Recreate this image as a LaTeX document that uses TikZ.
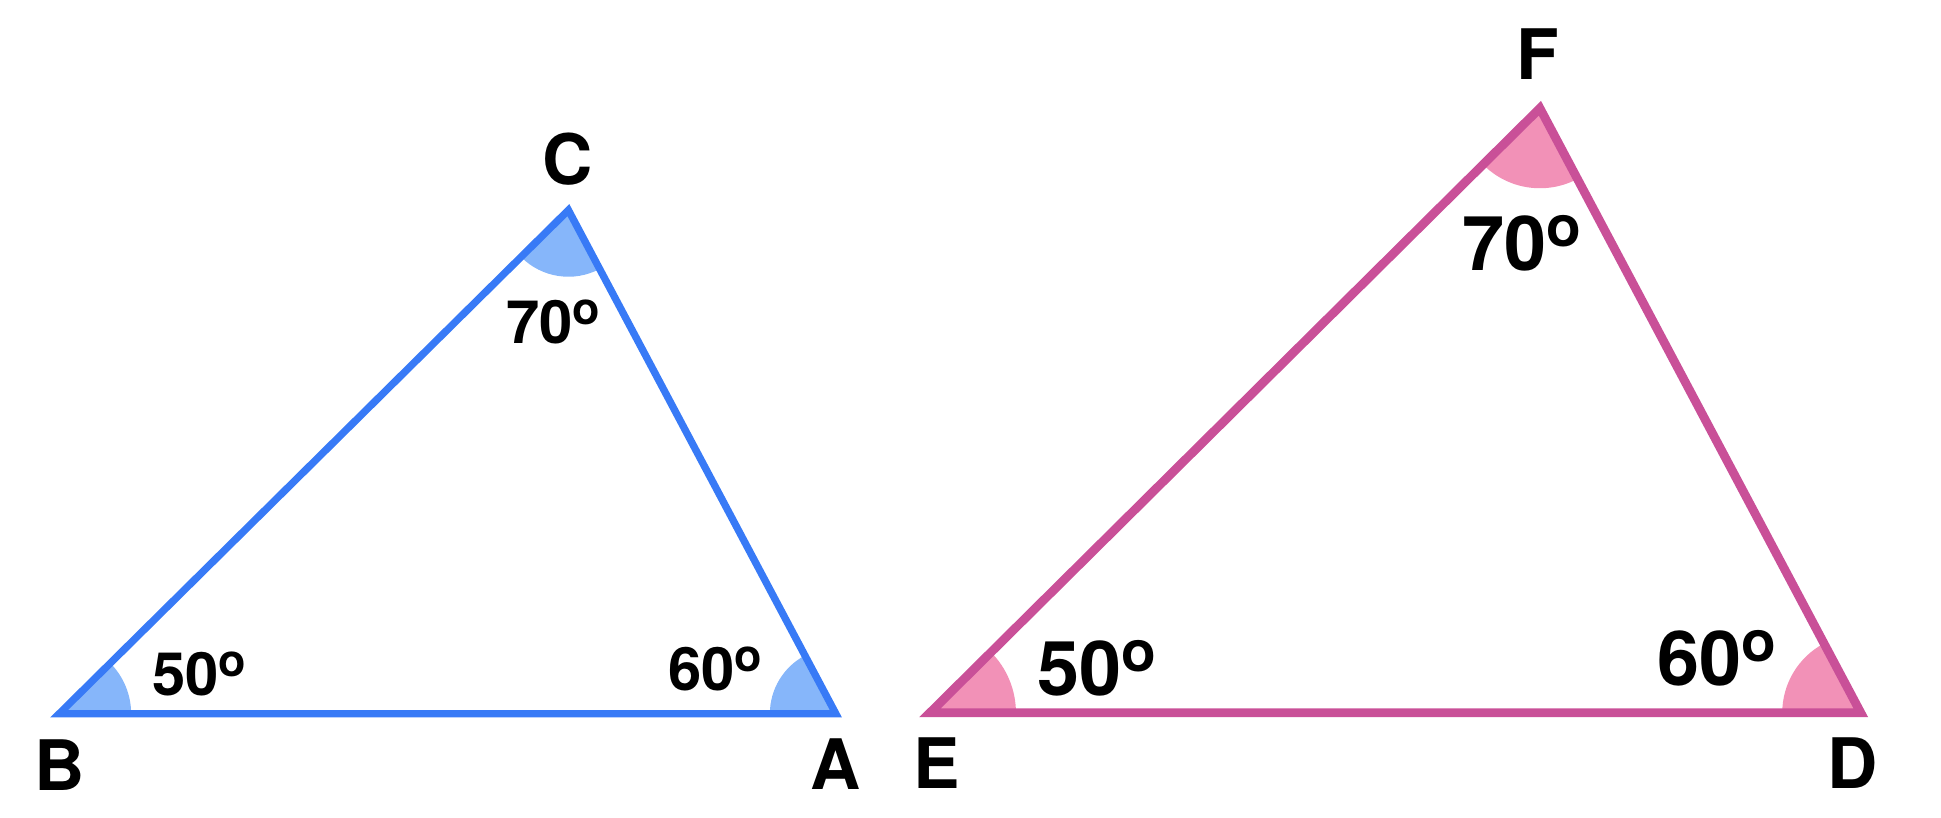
\documentclass[tikz,border=0pt]{standalone}
\usepackage{fontspec}
\setmainfont{TeX Gyre Heros}
\usepackage{graphicx}
\usetikzlibrary{angles, calc}
\definecolor{lineblue}{RGB}{56,122,246}
\definecolor{fillblue}{RGB}{134,182,250}
\definecolor{linepink}{RGB}{201,80,152}
\definecolor{fillpink}{RGB}{242,145,183}
\newcommand{\degsign}{\raisebox{0.31em}{\scalebox{0.75}{o}}}

\begin{document}
\begin{tikzpicture}[x=0.01cm, y=-0.01cm,
    vertexlabel/.style={font=\fontsize{19.8}{22}\selectfont\bfseries, inner sep=0pt},
    smallangle/.style={font=\fontsize{17}{19}\selectfont\bfseries, inner sep=0pt},
    bigangle/.style={font=\fontsize{21.5}{24}\selectfont\bfseries, inner sep=0pt}]
    \useasboundingbox (0,0) rectangle (1941,818);

    % Vertices
    \coordinate (B) at (59.1,713.8);
    \coordinate (A) at (835.9,713.8);
    \coordinate (C) at (568.4,210.1);
    \coordinate (E) at (929.9,712.8);
    \coordinate (D) at (1860.8,712.8);
    \coordinate (F) at (1539.9,108.2);

    % Angle sectors
    \pic[fill=fillblue, angle radius=0.72cm] {angle = A--B--C};
    \pic[fill=fillblue, angle radius=0.66cm] {angle = C--A--B};
    \pic[fill=fillblue, angle radius=0.666cm] {angle = B--C--A};
    \pic[fill=fillpink, angle radius=0.86cm] {angle = D--E--F};
    \pic[fill=fillpink, angle radius=0.785cm] {angle = F--D--E};
    \pic[fill=fillpink, angle radius=0.80cm] {angle = E--F--D};

    % Triangles
    \draw[lineblue, line width=0.073cm] (B) -- (A) -- (C) -- cycle;
    \draw[linepink, line width=0.088cm] (E) -- (D) -- (F) -- cycle;

    % Vertex names
    \node[vertexlabel] (labB) at (60,765) {B};
    \node[vertexlabel] (labA) at (836,764) {A};
    \node[vertexlabel] (labC) at (568,159) {C};
    \node[vertexlabel] (labE) at (937,763) {E};
    \node[vertexlabel] (labD) at (1853,763) {D};
    \node[vertexlabel] (labF) at (1538,54) {F};

    % Angle sizes
    \node[smallangle] (angB) at (199,674) {50\degsign};
    \node[smallangle] (angA) at (715,669) {60\degsign};
    \node[smallangle] (angC) at (553,322) {70\degsign};
    \node[bigangle] (angE) at (1097,668) {50\degsign};
    \node[bigangle] (angD) at (1717,658) {60\degsign};
    \node[bigangle] (angF) at (1522,243) {70\degsign};
\end{tikzpicture}
\end{document}
